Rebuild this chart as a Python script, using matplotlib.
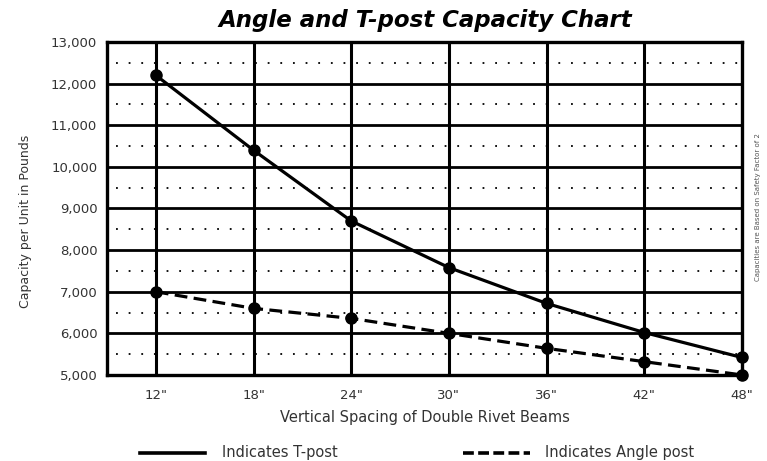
import numpy as np
import matplotlib.pyplot as plt
from matplotlib.lines import Line2D

plt.rcParams['font.family'] = ['DejaVu Sans']

spacing = [12, 18, 24, 30, 36, 42, 48]
spacing_labels = ['12"', '18"', '24"', '30"', '36"', '42"', '48"']
tpost = [12200, 10400, 8700, 7580, 6720, 6020, 5420]
angle = [7000, 6600, 6360, 6000, 5640, 5320, 5000]
y_ticks = list(range(5000, 13001, 1000))

fig = plt.figure(figsize=(7.67, 4.61), dpi=100)
ax = fig.add_axes([0.1395, 0.1866, 0.8279, 0.7223])

ax.set_xlim(9, 48)
ax.set_ylim(5000, 13000)

# dotted lines half way between the thousands
for y in np.arange(5500, 13000, 1000):
    ax.axhline(y, color='black', lw=1.3, linestyle=(2, (1, 6)), zorder=1)

# heavy grid
for y in y_ticks[1:-1]:
    ax.axhline(y, color='black', lw=2.0, zorder=2)
for x in spacing[:-1]:
    ax.axvline(x, color='black', lw=2.2, zorder=2)
for s in ax.spines.values():
    s.set_linewidth(2.4)

ax.plot(spacing, tpost, color='black', lw=2.3, marker='o', markersize=8,
        zorder=4, clip_on=False)
ax.plot(spacing, angle, color='black', lw=2.3, linestyle=(0, (4, 2)),
        marker='o', markersize=8, zorder=4, clip_on=False)

ax.set_xticks(spacing)
ax.set_xticklabels(spacing_labels)
ax.set_yticks(y_ticks)
ax.set_yticklabels([f'{v:,}' for v in y_ticks])
ax.tick_params(length=0, labelsize=9.5, colors='#333333', pad=7)
ax.tick_params(axis='x', pad=10)

ax.set_xlabel('Vertical Spacing of Double Rivet Beams', fontsize=10.5,
              color='#333333', labelpad=6)
ax.set_ylabel('Capacity per Unit in Pounds', fontsize=9, color='#333333',
              labelpad=16)
ax.yaxis.set_label_coords(-0.118, 0.46)

fig.text(0.555, 0.955, 'Angle and T-post Capacity Chart', ha='center',
         va='center', fontsize=16.5, fontweight='bold', style='italic')

fig.text(0.988, 0.55, 'Capacities are Based on Safety Factor of 2', rotation=90,
         ha='center', va='center', fontsize=5, color='#555555')

# legend drawn along the bottom
fig.add_artist(Line2D([0.183, 0.267], [0.018, 0.018], color='black', lw=2.6))
fig.text(0.29, 0.018, 'Indicates T-post', fontsize=10.5, va='center',
         color='#333333')
fig.add_artist(Line2D([0.604, 0.691], [0.018, 0.018], color='black', lw=2.6,
                      linestyle=(0, (3, 1.2))))
fig.text(0.711, 0.018, 'Indicates Angle post', fontsize=10.5, va='center',
         color='#333333')

fig.savefig('out.png', dpi=100)
